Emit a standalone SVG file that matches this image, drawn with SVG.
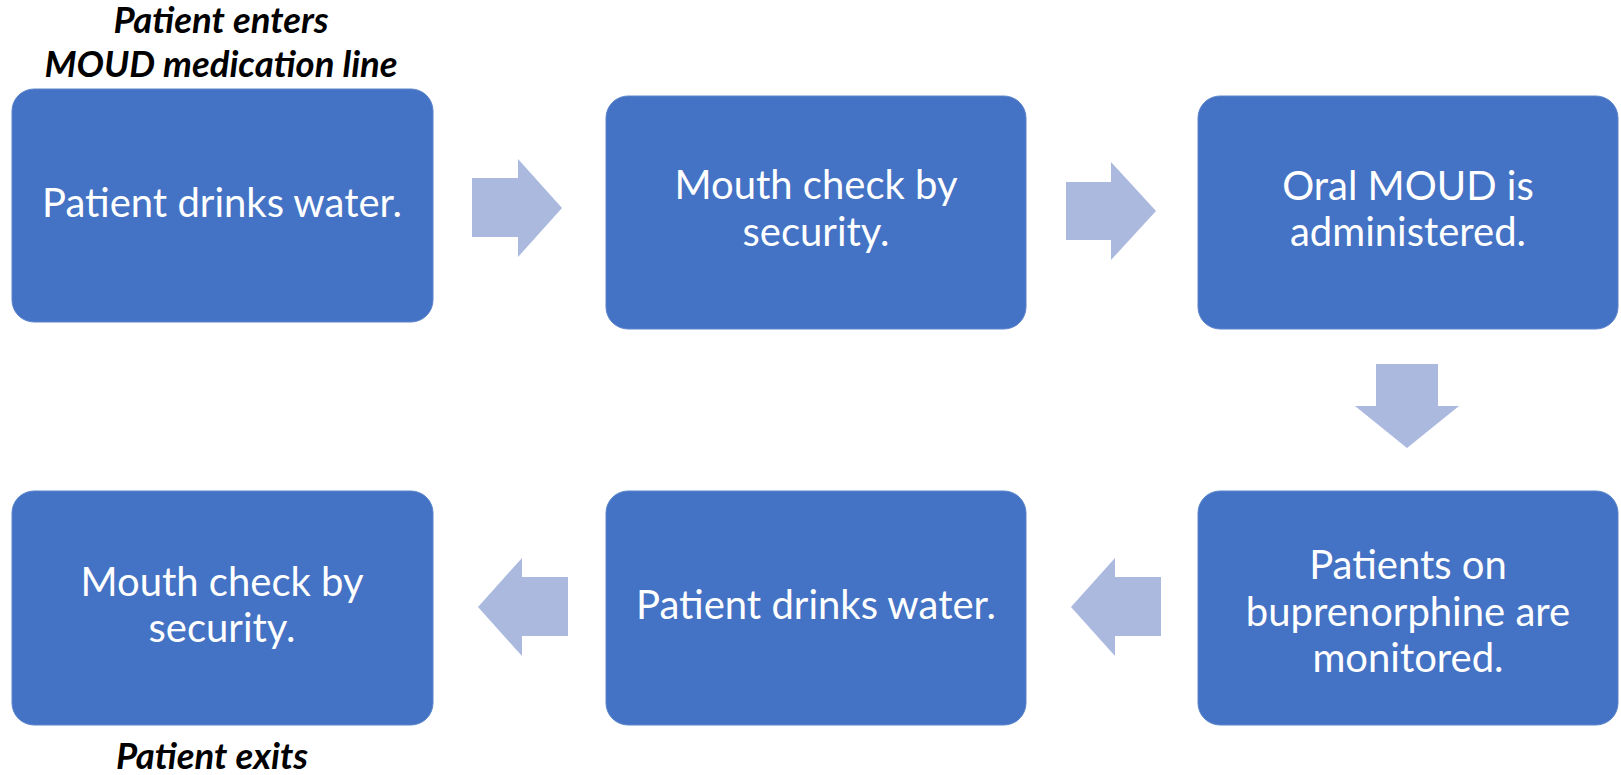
<svg xmlns="http://www.w3.org/2000/svg" width="1621" height="775" viewBox="0 0 1621 775">
<style>
.box{fill:#4472C4;stroke:#5A84CC;stroke-width:1}
.arrow{fill:#ABB9DF}
.t{font-family:Lato,"Liberation Sans",sans-serif;font-size:40px;fill:#FFFFFF;text-anchor:middle}
.cap{font-family:Lato,"Liberation Sans",sans-serif;font-size:36.5px;font-weight:bold;font-style:italic;fill:#000000;text-anchor:middle}
</style>
<rect width="1621" height="775" fill="#FFFFFF"/>
<g id="label-enter">
<text class="cap" x="221" y="33">Patient enters</text>
<text class="cap" x="221" y="77">MOUD medication line</text>
</g>
<g id="label-exit">
<text class="cap" x="212" y="769">Patient exits</text>
</g>
<g id="connectors">
<polygon class="arrow" points="472,178 518,178 518,159 562,208 518,257 518,237 472,237"/>
<polygon class="arrow" points="1066,182 1111,182 1111,162 1156,211 1111,260 1111,240 1066,240"/>
<polygon class="arrow" points="1376,364 1438,364 1438,406 1459,406 1407,448 1355,406 1376,406"/>
<polygon class="arrow" points="1161,577 1115,577 1115,558 1071,607 1115,656 1115,636 1161,636"/>
<polygon class="arrow" points="568,577 522,577 522,558 478,607 522,656 522,636 568,636"/>
</g>
<g id="node1">
<rect class="box" x="12" y="89" width="421" height="233" rx="22"/>
<text class="t" x="222" y="217">Patient drinks water.</text>
</g>
<g id="node2">
<rect class="box" x="606" y="96" width="420" height="233" rx="22"/>
<text class="t" x="816" y="199">Mouth check by</text>
<text class="t" x="816" y="246">security.</text>
</g>
<g id="node3">
<rect class="box" x="1198" y="96" width="420" height="233" rx="22"/>
<text class="t" x="1408" y="200">Oral MOUD is</text>
<text class="t" x="1408" y="246">administered.</text>
</g>
<g id="node4">
<rect class="box" x="1198" y="491" width="420" height="234" rx="22"/>
<text class="t" x="1408" y="579">Patients on</text>
<text class="t" x="1408" y="626">buprenorphine are</text>
<text class="t" x="1408" y="672">monitored.</text>
</g>
<g id="node5">
<rect class="box" x="606" y="491" width="420" height="234" rx="22"/>
<text class="t" x="816" y="619">Patient drinks water.</text>
</g>
<g id="node6">
<rect class="box" x="12" y="491" width="421" height="234" rx="22"/>
<text class="t" x="222" y="596">Mouth check by</text>
<text class="t" x="222" y="642">security.</text>
</g>
</svg>
